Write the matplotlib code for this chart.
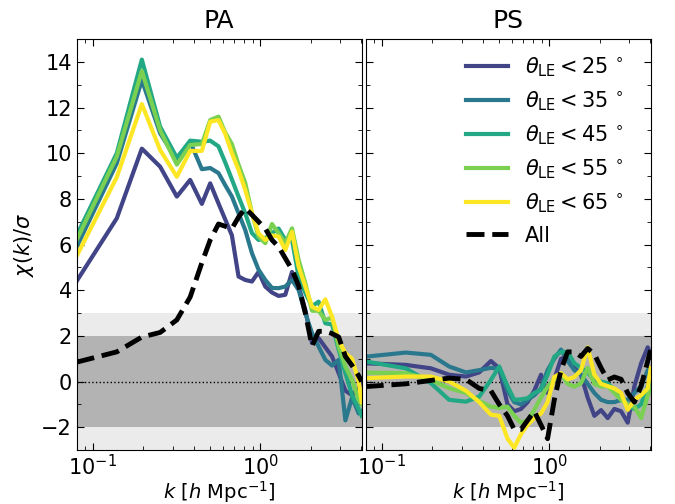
import numpy as np
import matplotlib
matplotlib.use("Agg")
import matplotlib.pyplot as plt
from matplotlib.ticker import MultipleLocator

# k bins [h/Mpc]
k = [0.0802, 0.1392, 0.1964, 0.2525, 0.3177, 0.3815, 0.4481, 0.5025, 0.5632,
     0.6177, 0.6773, 0.7418, 0.8133, 0.8922, 0.9768, 1.0713, 1.1747, 1.2865,
     1.4107, 1.547, 1.694, 1.858, 2.037, 2.231, 2.446, 2.683, 2.938, 3.222,
     3.533, 3.869, 4.03]

labels = [r"$\theta_{\rm LE} < 25\,^\circ$", r"$\theta_{\rm LE} < 35\,^\circ$",
          r"$\theta_{\rm LE} < 45\,^\circ$", r"$\theta_{\rm LE} < 55\,^\circ$",
          r"$\theta_{\rm LE} < 65\,^\circ$"]

# PA panel
pa_25 = [4.4, 7.15, 10.2, 9.41, 8.1, 8.83, 7.78, 8.68, 7.8, 7.1, 6.4, 4.6, 4.45,
         4.38, 4.8, 4.16, 3.9, 3.75, 3.8, 4.8, 4.16, 3.14, 1.68, 1.9, 1.5, 1.1,
         0.37, -0.4, -0.6, -0.3, 0.1]
pa_35 = [5.9, 9.56, 13.2, 10.87, 9.7, 10.5, 9.3, 9.35, 9.13, 8.6, 8.1, 7.37, 6.64,
         5.62, 4.9, 4.45, 4.1, 4.09, 4.16, 4.45, 4.01, 2.99, 2.12, 1.53, 0.95, 0.7,
         0.95, -1.7, -0.7, -1.4, -1.3]
pa_45 = [6.4, 10.0, 14.1, 11.16, 9.8, 10.55, 10.5, 10.55, 10.3, 9.6, 8.85, 8.1,
         7.37, 6.5, 6.2, 6.28, 6.5, 6.7, 6.2, 6.2, 4.6, 3.87, 3.3, 3.5, 2.55, 2.5,
         1.4, 0.37, -0.6, -1.2, -1.5]
pa_55 = [6.2, 9.85, 13.6, 11.0, 9.5, 10.36, 10.4, 11.45, 11.6, 10.9, 10.4, 9.5,
         8.7, 7.37, 6.35, 6.06, 6.9, 6.49, 6.06, 6.71, 5.33, 4.31, 3.1, 3.1, 2.7,
         2.8, 1.53, 0.66, 0.07, -0.8, -1.0]
pa_65 = [5.5, 8.95, 12.15, 10.14, 8.97, 10.1, 10.1, 11.38, 11.45, 10.85, 10.0,
         9.27, 8.39, 7.37, 6.49, 6.2, 6.4, 6.35, 5.76, 6.56, 5.03, 4.16, 3.28,
         3.14, 3.6, 2.84, 1.82, 1.24, 1.0, 0.0, -0.9]
pa_all = [0.85, 1.3, 1.95, 2.15, 2.7, 3.7, 5.2, 6.2, 6.9, 6.8, 6.7, 7.2, 7.59,
          7.3, 7.0, 6.7, 6.2, 5.9, 5.4, 4.9, 4.2, 3.0, 1.55, 2.2, 2.2, 2.1, 1.95,
          1.1, 0.7, 0.25, 0.0]

# PS panel
ps_25 = [0.8, 0.73, 0.58, 0.3, 0.22, 0.4, 0.9, 0.58, -1.0, -1.3, -1.2, -0.9,
         -0.4, 0.3, -0.5, 0.1, 1.0, 1.1, 0.6, 0.3, -0.7, -1.5, -1.25, -1.6, -1.2,
         -1.3, -1.8, -0.2, 0.8, 1.5, 1.2]
ps_35 = [1.09, 1.27, 1.17, 0.66, 0.4, 0.5, 0.6, 0.55, -0.4, -0.9, -1.0, -0.8,
         -0.6, -0.3, 0.5, 1.0, 1.4, 0.9, 0.5, 0.3, -0.1, -0.5, -0.8, -0.9, -0.9,
         -0.8, -0.8, -0.5, -0.2, 0.5, 0.6]
ps_45 = [0.88, 0.58, -0.07, -0.8, -0.88, -0.66, 0.07, 0.66, -0.2, -0.8, -0.78,
         -0.73, -0.5, -0.36, 0.3, 1.1, 1.3, 1.3, 0.8, 0.6, 0.4, 0.07, 0.0, -0.07,
         -0.4, -0.6, -1.05, -1.2, -1.0, -0.2, 0.0]
ps_55 = [0.39, 0.37, 0.07, -0.29, -0.5, -0.85, -1.1, -1.15, -1.1, -1.5, -1.8,
         -1.7, -1.24, -0.7, -0.22, 0.1, 0.37, -0.1, -0.22, -0.07, 0.6, -0.1,
         -0.22, -0.2, -0.5, -0.8, -1.0, -1.1, -1.6, -0.6, -0.3]
ps_65 = [0.15, 0.22, 0.22, 0.0, -0.4, -0.9, -1.45, -1.5, -2.5, -2.9, -2.3, -1.9,
         -1.6, -1.4, -0.9, 0.2, 0.37, 0.1, 0.2, 0.5, 1.5, 0.3, -0.1, -0.2, -0.3,
         -0.5, -1.24, -0.8, -0.6, -0.3, 0.6]
ps_all = [-0.22, -0.1, 0.05, 0.15, 0.1, -0.3, -0.4, -1.0, -1.5, -2.1, -2.1, -1.7,
          -1.3, -1.9, -2.5, -0.8, 0.5, 1.3, 1.3, 1.1, 1.45, 1.2, 0.6, 0.07, 0.2,
          0.1, -0.5, -0.9, -0.2, 0.9, 1.4]

panels = [("PA", [pa_25, pa_35, pa_45, pa_55, pa_65], pa_all),
          ("PS", [ps_25, ps_35, ps_45, ps_55, ps_65], ps_all)]

colors = plt.cm.viridis([0.2, 0.4, 0.6, 0.8, 1.0])

fig = plt.figure(figsize=(6.75, 5.04), dpi=100)
ax1 = fig.add_axes([0.1136, 0.107, 0.4222, 0.8156])
ax2 = fig.add_axes([0.5418, 0.107, 0.4222, 0.8156], sharey=ax1)

for ax, (title, series, allv) in zip([ax1, ax2], panels):
    ax.axhspan(-3, 3, color='#ebebeb', lw=0, zorder=0)
    ax.axhspan(-2, 2, color='#b3b3b3', lw=0, zorder=0)
    ax.axhline(0, color='k', ls=':', lw=1, zorder=1)
    for vals, c, lab in zip(series, colors, labels):
        ax.plot(k, vals, color=c, lw=3, label=lab)
    ax.plot(k, allv, color='k', ls='--', lw=3.5, label='All')
    ax.set_xscale('log')
    ax.set_xlim(0.0802, 4.03)
    ax.set_ylim(-3, 15)
    ax.yaxis.set_major_locator(MultipleLocator(2))
    ax.yaxis.set_minor_locator(MultipleLocator(1))
    ax.tick_params(which='both', direction='in', top=True, right=True,
                   labelsize=15)
    ax.tick_params(which='major', length=5)
    ax.tick_params(which='minor', length=3)
    ax.tick_params(axis='x', pad=3)
    ax.set_title(title, fontsize=18, pad=8)
    ax.set_xlabel(r"$k\ [h\ {\rm Mpc}^{-1}]$", fontsize=14, labelpad=0)

ax1.set_ylabel(r"$\chi(k)/\sigma$", fontsize=15)
ax2.tick_params(labelleft=False)
ax2.legend(loc='upper right', bbox_to_anchor=(0.961, 1.0), frameon=False,
           fontsize=15, handlelength=2.0, labelspacing=0.5, borderaxespad=0.4)

fig.savefig("out.png", dpi=100)
